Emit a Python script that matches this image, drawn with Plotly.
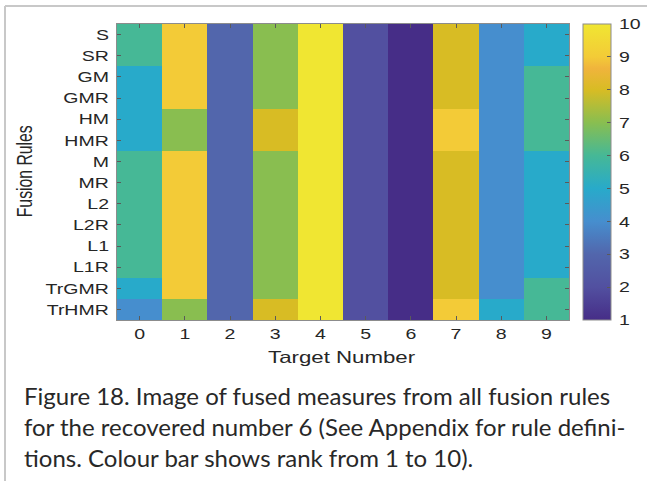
import plotly.graph_objects as go

# Fusion rules (rows, top to bottom) and target numbers (columns)
rules = ["S", "SR", "GM", "GMR", "HM", "HMR", "M", "MR",
         "L2", "L2R", "L1", "L1R", "TrGMR", "TrHMR"]
targets = [0, 1, 2, 3, 4, 5, 6, 7, 8, 9]

# Rank (1-10) of each target number under each fusion rule
rank_S = [6, 9, 3, 7, 10, 2, 1, 8, 4, 5]
rank_SR = [6, 9, 3, 7, 10, 2, 1, 8, 4, 5]
rank_GM = [5, 9, 3, 7, 10, 2, 1, 8, 4, 6]
rank_GMR = [5, 9, 3, 7, 10, 2, 1, 8, 4, 6]
rank_HM = [5, 7, 3, 8, 10, 2, 1, 9, 4, 6]
rank_HMR = [5, 7, 3, 8, 10, 2, 1, 9, 4, 6]
rank_M = [6, 9, 3, 7, 10, 2, 1, 8, 4, 5]
rank_MR = [6, 9, 3, 7, 10, 2, 1, 8, 4, 5]
rank_L2 = [6, 9, 3, 7, 10, 2, 1, 8, 4, 5]
rank_L2R = [6, 9, 3, 7, 10, 2, 1, 8, 4, 5]
rank_L1 = [6, 9, 3, 7, 10, 2, 1, 8, 4, 5]
rank_L1R = [6, 9, 3, 7, 10, 2, 1, 8, 4, 5]
rank_TrGMR = [5, 9, 3, 7, 10, 2, 1, 8, 4, 6]
rank_TrHMR = [4, 7, 3, 8, 10, 2, 1, 9, 5, 6]

colorbar_ticks = [1, 2, 3, 4, 5, 6, 7, 8, 9, 10]

z = [rank_S, rank_SR, rank_GM, rank_GMR, rank_HM, rank_HMR, rank_M, rank_MR,
     rank_L2, rank_L2R, rank_L1, rank_L1R, rank_TrGMR, rank_TrHMR]

# Parula-like colour map over ranks 1..10
parula = [
    [0.000, "rgb(70,45,135)"],
    [0.111, "rgb(82,80,160)"],
    [0.222, "rgb(82,102,172)"],
    [0.333, "rgb(70,142,206)"],
    [0.444, "rgb(40,170,202)"],
    [0.556, "rgb(70,184,150)"],
    [0.667, "rgb(137,190,80)"],
    [0.778, "rgb(216,188,36)"],
    [0.850, "rgb(240,180,60)"],
    [0.889, "rgb(243,203,55)"],
    [1.000, "rgb(240,230,50)"],
]

W, H = 647, 481
px = lambda v: v / W
py = lambda v: 1 - v / H

AX_FONT = "Liberation Sans, Arial, Helvetica"
INK = "rgb(38,38,38)"
tick_font = dict(family=AX_FONT, size=15, color=INK)
caption_font = dict(family="Lato", size=24, color="rgb(40,40,40)")

fig = go.Figure(go.Heatmap(
    z=z, x=targets, y=rules,
    zmin=1, zmax=10,
    colorscale=parula,
    colorbar=dict(
        x=px(583), xanchor="left",
        y=py(24), yanchor="top",
        len=296 / H, lenmode="fraction",
        thickness=28, thicknessmode="pixels",
        outlinecolor="rgb(140,140,140)", outlinewidth=1,
        tickvals=colorbar_ticks,
        ticks="inside", ticklen=4, tickcolor="rgb(90,90,90)",
        tickfont=tick_font, xpad=0, ypad=0,
    ),
))

fig.update_layout(
    width=W, height=H,
    margin=dict(l=0, r=0, t=0, b=0),
    paper_bgcolor="white", plot_bgcolor="white",
    xaxis=dict(
        domain=[px(117), px(569)],
        tickvals=targets, ticks="inside", ticklen=4,
        tickcolor="rgb(90,90,90)",
        showline=True, linecolor="rgb(140,140,140)", linewidth=1,
        mirror="ticks", tickfont=tick_font, showgrid=False, zeroline=False,
    ),
    yaxis=dict(
        domain=[py(320), py(24)],
        autorange="reversed", ticks="inside", ticklen=4,
        tickcolor="rgb(90,90,90)",
        showline=True, linecolor="rgb(140,140,140)", linewidth=1,
        mirror="ticks", tickfont=tick_font, showgrid=False, zeroline=False,
    ),
    annotations=[
        dict(text="Target Number", x=px(342), y=py(357), xref="paper", yref="paper",
             showarrow=False, xanchor="center", yanchor="middle",
             font=dict(family=AX_FONT, size=16.5, color=INK)),
        dict(text="Fusion Rules", x=px(25), y=py(172), xref="paper", yref="paper",
             showarrow=False, xanchor="center", yanchor="middle", textangle=-90,
             font=dict(family=AX_FONT, size=21.5, color=INK)),
        dict(text="Figure 18. Image of fused measures from all fusion rules",
             x=px(22), y=py(395), xref="paper", yref="paper", showarrow=False,
             xanchor="left", yanchor="middle", align="left", font=caption_font),
        dict(text="for the recovered number 6 (See Appendix for rule defini-",
             x=px(22), y=py(426), xref="paper", yref="paper", showarrow=False,
             xanchor="left", yanchor="middle", align="left", font=caption_font),
        dict(text="tions. Colour bar shows rank from 1 to 10).",
             x=px(22), y=py(457), xref="paper", yref="paper", showarrow=False,
             xanchor="left", yanchor="middle", align="left", font=caption_font),
    ],
    shapes=[
        dict(type="line", xref="paper", yref="paper",
             x0=px(5), x1=px(5), y0=0, y1=py(6),
             line=dict(color="rgb(200,200,200)", width=2)),
        dict(type="line", xref="paper", yref="paper",
             x0=px(5), x1=1, y0=py(6), y1=py(6),
             line=dict(color="rgb(200,200,200)", width=2)),
    ],
)

# Axis lettering is drawn horizontally widened, as in the exported figure;
# row labels end a little before the axis and colour-bar labels sit clear of the bar
widen_text = """
var gd = document.getElementById('{plot_id}');
function widen(nodes, k) {
  nodes.forEach(function (t) {
    var L = t.getComputedTextLength();
    if (L > 0) {
      t.setAttribute('textLength', (L * k).toFixed(2));
      t.setAttribute('lengthAdjust', 'spacingAndGlyphs');
    }
  });
}
function fixLength(sel, len) {
  var t = gd.querySelector(sel);
  if (t) {
    t.setAttribute('textLength', len);
    t.setAttribute('lengthAdjust', 'spacingAndGlyphs');
  }
}
function shiftTo(nodes, edge, target) {
  var base = gd.getBoundingClientRect();
  nodes.forEach(function (t) {
    var r = t.getBoundingClientRect();
    if (r.width <= 0) return;
    var cur = (edge === 'right' ? r.right : r.left) - base.left;
    var x = parseFloat(t.getAttribute('x') || '0');
    t.setAttribute('x', (x + target - cur).toFixed(2));
  });
}
widen(gd.querySelectorAll('.xtick text, .ytick text, .colorbar text'), 1.3);
fixLength('.annotation[data-index="0"] text', 147);
fixLength('.annotation[data-index="1"] text', 92);
shiftTo(gd.querySelectorAll('.ytick text'), 'right', 109);
shiftTo(gd.querySelectorAll('.colorbar text'), 'left', 619);
"""

fig.write_html("out.html", post_script=widen_text)
